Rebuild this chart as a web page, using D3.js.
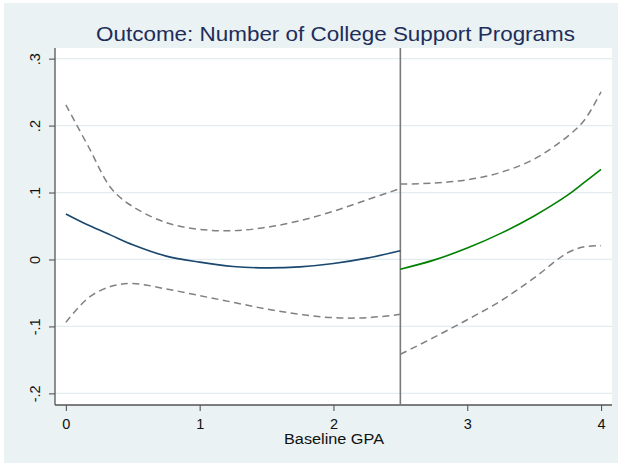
<!DOCTYPE html>
<html>
<head>
<meta charset="utf-8">
<script src="https://cdn.jsdelivr.net/npm/d3@7"></script>
<style>
  html, body { margin: 0; padding: 0; background: #ffffff; }
  svg { display: block; }
  text { font-family: "Liberation Sans", Arial, Helvetica, sans-serif; }
</style>
</head>
<body>
<div id="chart"></div>
<script>
// Baseline GPA grid below the 2.5 cutoff and the local fit with its 95% band
const xLeft     = [0, 0.17, 0.34, 0.5, 0.75, 1.0, 1.25, 1.5, 1.75, 2.0, 2.25, 2.5];
const fitLeft   = [0.068, 0.051, 0.036, 0.022, 0.005, -0.004, -0.0105, -0.0125, -0.011, -0.006, 0.002, 0.013];
const upperLeft = [0.231, 0.168, 0.106, 0.079, 0.055, 0.045, 0.043, 0.048, 0.058, 0.072, 0.089, 0.106];
const lowerLeft = [-0.094, -0.057, -0.040, -0.036, -0.044, -0.054, -0.064, -0.074, -0.082, -0.087, -0.087, -0.082];

// Baseline GPA grid above the cutoff
const xRight     = [2.5, 2.75, 3.0, 3.25, 3.5, 3.75, 3.875, 4.0];
const fitRight   = [-0.0145, -0.001, 0.017, 0.039, 0.065, 0.096, 0.115, 0.1345];
const upperRight = [0.1126, 0.114, 0.119, 0.130, 0.150, 0.184, 0.208, 0.2505];
const lowerRight = [-0.1416, -0.1165, -0.090, -0.062, -0.0275, 0.010, 0.019, 0.0205];

const cutoff = 2.5;
const xTicks = [0, 1, 2, 3, 4];
const xTickLabels = ["0", "1", "2", "3", "4"];
const yTicks = [-0.2, -0.1, 0, 0.1, 0.2, 0.3];
const yTickLabels = ["-.2", "-.1", "0", ".1", ".2", ".3"];

const titleText = "Outcome: Number of College Support Programs";
const xTitle = "Baseline GPA";

const W = 622, H = 466;
const plot = { left: 55, right: 612, top: 48, bottom: 405 };

const svg = d3.select("#chart").append("svg")
  .attr("width", W).attr("height", H);

// graph region
svg.append("rect")
  .attr("x", 4).attr("y", 3).attr("width", W - 8).attr("height", H - 6)
  .attr("fill", "#EAF2F3");

// plot region
svg.append("rect")
  .attr("x", plot.left).attr("y", plot.top)
  .attr("width", plot.right - plot.left).attr("height", plot.bottom - plot.top)
  .attr("fill", "#ffffff");

const x = d3.scaleLinear().domain([-0.0813, 4.0819]).range([plot.left, plot.right]);
const y = d3.scaleLinear().domain([-0.2174, 0.3159]).range([plot.bottom, plot.top]);

// horizontal grid lines
svg.append("g").selectAll("line").data(yTicks).join("line")
  .attr("x1", plot.left).attr("x2", plot.right)
  .attr("y1", d => y(d)).attr("y2", d => y(d))
  .attr("stroke", "#E3EDEF").attr("stroke-width", 1.3);

// y axis
const yAxis = d3.axisLeft(y).tickValues(yTicks)
  .tickFormat((d, i) => yTickLabels[i]).tickSize(6).tickSizeOuter(0);
const gy = svg.append("g").attr("transform", `translate(${plot.left},0)`).call(yAxis);
gy.select(".domain").attr("stroke", "#555").attr("stroke-width", 1.3)
  .attr("d", `M0,${plot.top}V${plot.bottom}`);
gy.selectAll(".tick line").attr("stroke", "#555").attr("stroke-width", 1.1);
gy.selectAll(".tick text")
  .attr("x", 0).attr("y", 0)
  .attr("transform", "translate(-15,0) rotate(-90)")
  .attr("dy", 0)
  .attr("text-anchor", "middle")
  .attr("font-size", 14.5).attr("fill", "#111");

// x axis
const xAxis = d3.axisBottom(x).tickValues(xTicks)
  .tickFormat((d, i) => xTickLabels[i]).tickSize(6).tickSizeOuter(0);
const gx = svg.append("g").attr("transform", `translate(0,${plot.bottom})`).call(xAxis);
gx.select(".domain").attr("stroke", "#555").attr("stroke-width", 1.3)
  .attr("d", `M${plot.left},0H${plot.right}`);
gx.selectAll(".tick line").attr("stroke", "#555").attr("stroke-width", 1.1);
gx.selectAll(".tick text")
  .attr("y", 0).attr("dy", 23.5)
  .attr("font-size", 14.5).attr("fill", "#111");

// x axis title
svg.append("text")
  .attr("x", 334).attr("y", 444)
  .attr("text-anchor", "middle").attr("font-size", 14).attr("fill", "#111")
  .attr("textLength", 100).attr("lengthAdjust", "spacingAndGlyphs")
  .text(xTitle);

// chart title
svg.append("text")
  .attr("x", 335.5).attr("y", 41)
  .attr("text-anchor", "middle").attr("font-size", 21).attr("fill", "#1E2D5A")
  .attr("textLength", 479).attr("lengthAdjust", "spacingAndGlyphs")
  .text(titleText);

// cutoff line
svg.append("line")
  .attr("x1", x(cutoff)).attr("x2", x(cutoff))
  .attr("y1", plot.top).attr("y2", plot.bottom)
  .attr("stroke", "#7a7a7a").attr("stroke-width", 1.6);

const line = d3.line()
  .x(d => x(d[0])).y(d => y(d[1]))
  .curve(d3.curveCatmullRom.alpha(0.5));

function drawSeries(xs, ys, color, dashed) {
  svg.append("path")
    .datum(xs.map((v, i) => [v, ys[i]]))
    .attr("d", line)
    .attr("fill", "none")
    .attr("stroke", color)
    .attr("stroke-width", dashed ? 1.5 : 1.6)
    .attr("stroke-dasharray", dashed ? "7,4.5" : null);
}

drawSeries(xLeft, upperLeft, "#808080", true);
drawSeries(xLeft, lowerLeft, "#808080", true);
drawSeries(xLeft, fitLeft, "#1A476F", false);

drawSeries(xRight, upperRight, "#808080", true);
drawSeries(xRight, lowerRight, "#808080", true);
drawSeries(xRight, fitRight, "#008000", false);
</script>
</body>
</html>
